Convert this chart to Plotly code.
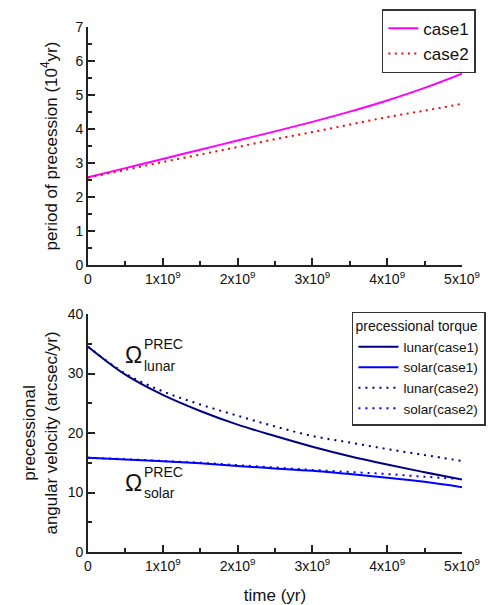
import plotly.graph_objects as go

# ---- data ----
time_yr = [0, 0.5e9, 1.0e9, 1.5e9, 2.0e9, 2.5e9, 3.0e9, 3.5e9, 4.0e9, 4.5e9, 5.0e9]

period_case1 = [2.58, 2.85, 3.12, 3.39, 3.66, 3.93, 4.21, 4.51, 4.84, 5.21, 5.63]
period_case2 = [2.57, 2.80, 3.03, 3.25, 3.47, 3.70, 3.91, 4.13, 4.35, 4.54, 4.74]

lunar_case1 = [34.5, 29.8, 26.4, 23.7, 21.4, 19.5, 17.7, 16.1, 14.7, 13.4, 12.2]
solar_case1 = [15.85, 15.55, 15.25, 14.9, 14.45, 14.05, 13.65, 13.1, 12.5, 11.8, 10.9]
lunar_case2 = [34.5, 30.0, 27.0, 24.8, 22.9, 21.1, 19.5, 18.4, 17.3, 16.3, 15.3]
solar_case2 = [15.85, 15.6, 15.3, 15.0, 14.6, 14.2, 13.8, 13.45, 13.1, 12.65, 12.25]

x_tickvals = [0, 1e9, 2e9, 3e9, 4e9, 5e9]
x_ticktext = ["0", "1x10<sup>9</sup>", "2x10<sup>9</sup>", "3x10<sup>9</sup>",
              "4x10<sup>9</sup>", "5x10<sup>9</sup>"]

FONT = "Liberation Sans, Arial, sans-serif"
AX = "#222222"
TICKSIZE = 14

fig = go.Figure()

fig.add_trace(go.Scatter(x=time_yr, y=period_case1, mode="lines", name="case1",
                         line=dict(color="#FF00FF", width=2, shape="spline"),
                         xaxis="x", yaxis="y", legend="legend"))
fig.add_trace(go.Scatter(x=time_yr, y=period_case2, mode="lines", name="case2",
                         line=dict(color="#FF0000", width=2, dash="2px,4.5px", shape="spline"),
                         xaxis="x", yaxis="y", legend="legend"))

fig.add_trace(go.Scatter(x=time_yr, y=lunar_case1, mode="lines", name="lunar(case1)",
                         line=dict(color="#000080", width=2, shape="spline"),
                         xaxis="x2", yaxis="y2", legend="legend2"))
fig.add_trace(go.Scatter(x=time_yr, y=solar_case1, mode="lines", name="solar(case1)",
                         line=dict(color="#0000FF", width=2, shape="spline"),
                         xaxis="x2", yaxis="y2", legend="legend2"))
fig.add_trace(go.Scatter(x=time_yr, y=lunar_case2, mode="lines", name="lunar(case2)",
                         line=dict(color="#000080", width=2, dash="2px,5px", shape="spline"),
                         xaxis="x2", yaxis="y2", legend="legend2"))
fig.add_trace(go.Scatter(x=time_yr, y=solar_case2, mode="lines", name="solar(case2)",
                         line=dict(color="#0000FF", width=2, dash="2px,5px", shape="spline"),
                         xaxis="x2", yaxis="y2", legend="legend2"))

def xax(anchor, title=None):
    d = dict(range=[0, 5e9], tickvals=x_tickvals, ticktext=x_ticktext,
             ticks="inside", ticklen=7, tickwidth=1.5, tickcolor=AX,
             showline=True, linecolor=AX, linewidth=1.8, showgrid=False,
             zeroline=False, anchor=anchor, domain=[0, 1],
             tickfont=dict(family=FONT, size=TICKSIZE, color="#111"),
             minor=dict(tickvals=[0.5e9, 1.5e9, 2.5e9, 3.5e9, 4.5e9], ticks="inside",
                        ticklen=4, tickwidth=1.5, tickcolor=AX))
    if title:
        d["title"] = dict(text=title, font=dict(family=FONT, size=17, color="#111"), standoff=18)
    return d

top_bottom = 1 - 238 / 525
bot_top = 238 / 525

fig.update_layout(
    width=489, height=605,
    margin=dict(l=88, r=27, t=27, b=53, autoexpand=False),
    paper_bgcolor="white", plot_bgcolor="white",
    font=dict(family=FONT, color="#111"),
    showlegend=True,
    xaxis=xax("y"),
    xaxis2=xax("y2", title="time (yr)"),
    yaxis=dict(range=[0, 7], dtick=1, domain=[top_bottom, 1], anchor="x",
               ticks="inside", ticklen=7, tickwidth=1.5, tickcolor=AX,
               showline=True, linecolor=AX, linewidth=1.8, showgrid=False, zeroline=False,
               tickfont=dict(family=FONT, size=TICKSIZE, color="#111"),
               minor=dict(dtick=0.5, ticks="inside", ticklen=4, tickwidth=1.5, tickcolor=AX),
               title=dict(text="period of precession (10<sup>4</sup>yr)",
                          font=dict(family=FONT, size=17, color="#111"), standoff=14)),
    yaxis2=dict(range=[0, 40], dtick=10, domain=[0, bot_top], anchor="x2",
                ticks="inside", ticklen=7, tickwidth=1.5, tickcolor=AX,
                showline=True, linecolor=AX, linewidth=1.8, showgrid=False, zeroline=False,
                tickfont=dict(family=FONT, size=TICKSIZE, color="#111"),
                minor=dict(dtick=5, ticks="inside", ticklen=4, tickwidth=1.5, tickcolor=AX),
                title=dict(text="precessional<br>angular velocity (arcsec/yr)",
                           font=dict(family=FONT, size=17, color="#111"), standoff=6)),
    legend=dict(x=1.037, y=1.0337, xanchor="right", yanchor="top",
                bgcolor="white", bordercolor="#333", borderwidth=1.5,
                font=dict(family=FONT, size=17, color="#111"),
                tracegroupgap=0, itemwidth=30),
    legend2=dict(x=1.064, y=0.4577, xanchor="right", yanchor="top",
                 bgcolor="white", bordercolor="#333", borderwidth=1.5,
                 font=dict(family=FONT, size=13.5, color="#111"),
                 title=dict(text="precessional torque", font=dict(family=FONT, size=14, color="#111")),
                 tracegroupgap=0, itemwidth=40),
)

# Omega labels
def omega(xv, yv, sub, ysup, ysub):
    fig.add_annotation(x=xv, y=yv, xref="x2", yref="y2", text="Ω", showarrow=False,
                       font=dict(family=FONT, size=23, color="#111"), xanchor="center", yanchor="middle")
    fig.add_annotation(x=0.72e9, y=ysup, xref="x2", yref="y2", text="PREC", showarrow=False,
                       font=dict(family=FONT, size=14, color="#111"), xanchor="left", yanchor="middle")
    fig.add_annotation(x=0.72e9, y=ysub, xref="x2", yref="y2", text=sub, showarrow=False,
                       font=dict(family=FONT, size=14, color="#111"), xanchor="left", yanchor="middle")

omega(0.61e9, 33.1, "lunar", 35.0, 31.2)
omega(0.61e9, 11.6, "solar", 13.5, 9.9)

fig.write_html("out.html")
